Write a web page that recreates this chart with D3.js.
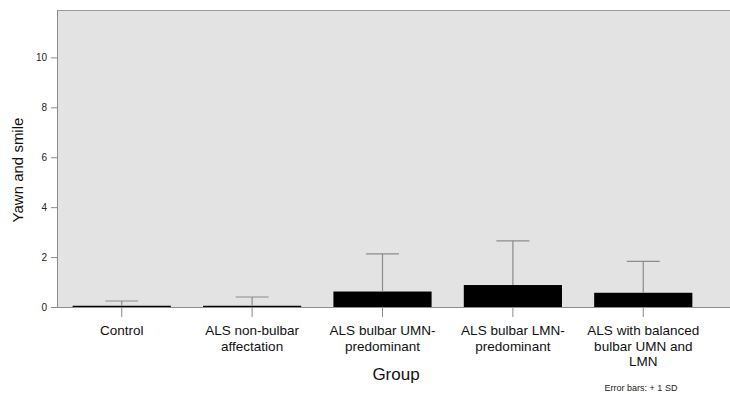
<!DOCTYPE html>
<html>
<head>
<meta charset="utf-8">
<script src="https://cdn.jsdelivr.net/npm/d3@7"></script>
<style>
  body { margin: 0; background: #fff; }
  text { font-family: "Liberation Sans", Arial, sans-serif; }
</style>
</head>
<body>
<div id="chart-area"></div>
<script>
// Data
var groups = [
    ['Control'],
    ['ALS non-bulbar', 'affectation'],
    ['ALS bulbar UMN-', 'predominant'],
    ['ALS bulbar LMN-', 'predominant'],
    ['ALS with balanced', 'bulbar UMN and', 'LMN']
]
var means = [0.05, 0.05, 0.62, 0.88, 0.57]
var sds = [0.19, 0.35, 1.51, 1.77, 1.26]
var yTicks = [0, 2, 4, 6, 8, 10]

var margin = { left: 57, right: 0, top: 10, bottom: 87 }
var width = 730 - margin.left - margin.right
var height = 394 - margin.top - margin.bottom

var svg = d3.select('#chart-area')
    .append('svg')
        .attr('width', 730)
        .attr('height', 394)

var g = svg.append('g')
    .attr('transform', `translate(${margin.left}, ${margin.top})`)

// plot background
g.append('rect')
    .attr('x', 0)
    .attr('y', 0)
    .attr('width', width)
    .attr('height', height)
    .attr('fill', '#e3e3e3')

g.append('line')
    .attr('x1', 0).attr('x2', width)
    .attr('y1', 0.5).attr('y2', 0.5)
    .attr('stroke', '#9a9a9a')

// X Scale
var x = d3.scaleBand()
    .domain(d3.range(groups.length))
    .range([0, 651])
    .paddingInner(0.247)
    .paddingOuter(0.12)

// Y Scale
var y = d3.scaleLinear()
    .domain([0, 11.9])
    .range([height, 0])

// bars
g.selectAll('rect.bar')
    .data(means)
    .enter().append('rect')
        .attr('class', 'bar')
        .attr('x', (d, i) => x(i))
        .attr('width', x.bandwidth())
        .attr('y', d => y(d))
        .attr('height', d => height - y(d))
        .attr('fill', '#000')

// error bars (+1 SD)
var cx = i => x(i) + x.bandwidth() / 2
var errs = g.selectAll('g.err')
    .data(means)
    .enter().append('g')
        .attr('class', 'err')

errs.append('line')
    .attr('x1', (d, i) => cx(i)).attr('x2', (d, i) => cx(i))
    .attr('y1', d => y(d)).attr('y2', (d, i) => y(d + sds[i]))
    .attr('stroke', '#8c8c8c')
    .attr('stroke-width', 1.2)

errs.append('line')
    .attr('x1', (d, i) => cx(i) - 16.5).attr('x2', (d, i) => cx(i) + 16.5)
    .attr('y1', (d, i) => y(d + sds[i])).attr('y2', (d, i) => y(d + sds[i]))
    .attr('stroke', '#8c8c8c')
    .attr('stroke-width', 1.2)

// Y Axis
var yAxis = g.append('g')
    .call(d3.axisLeft(y).tickValues(yTicks).tickSizeInner(6).tickSizeOuter(0).tickPadding(4))
yAxis.selectAll('path, line').attr('stroke', '#8c8c8c')
yAxis.selectAll('text')
    .attr('font-size', '10px')
    .attr('fill', '#222')
    .style('font-family', '"Liberation Sans", Arial, sans-serif')

// X Axis
var xAxis = g.append('g')
    .attr('transform', `translate(0, ${height})`)
    .call(d3.axisBottom(x).tickSize(10).tickFormat(''))
xAxis.select('path')
    .attr('d', `M0,0.5H${width}`)
    .attr('stroke', '#8c8c8c')
xAxis.selectAll('line').attr('stroke', '#8c8c8c')

// category labels
var labels = g.selectAll('text.cat')
    .data(groups)
    .enter().append('text')
        .attr('class', 'cat')
        .attr('text-anchor', 'middle')
        .attr('font-size', '13.5px')
        .attr('fill', '#111')
        .attr('transform', (d, i) => `translate(${cx(i)}, ${height + 28})`)

labels.selectAll('tspan')
    .data(d => d)
    .enter().append('tspan')
        .attr('x', 0)
        .attr('y', (d, j) => j * 15.5)
        .text(d => d)

// x label
g.append('text')
    .attr('x', 339)
    .attr('y', height + 73)
    .attr('font-size', '17px')
    .attr('text-anchor', 'middle')
    .attr('fill', '#111')
    .text('Group')

// y label
g.append('text')
    .attr('x', -170 + margin.top)
    .attr('y', -34)
    .attr('font-size', '15px')
    .attr('text-anchor', 'middle')
    .attr('fill', '#111')
    .attr('transform', 'rotate(-90)')
    .text('Yawn and smile')

// footnote
svg.append('text')
    .attr('x', 641)
    .attr('y', 391)
    .attr('font-size', '9px')
    .attr('text-anchor', 'middle')
    .attr('fill', '#222')
    .text('Error bars: + 1 SD')
</script>
</body>
</html>
